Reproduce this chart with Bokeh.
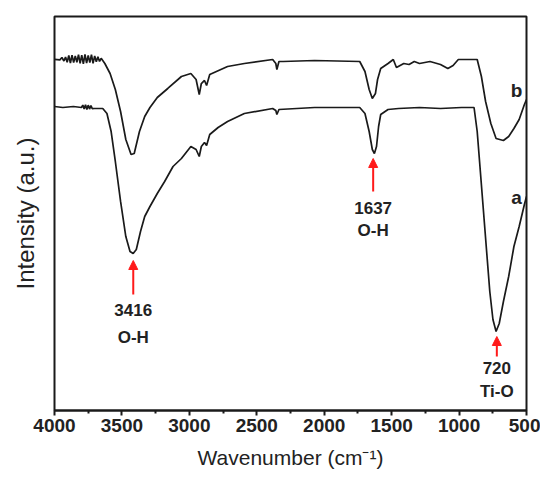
from bokeh.plotting import figure
from bokeh.models import Range1d, FixedTicker, Arrow, NormalHead, ColumnDataSource
from bokeh.core.properties import value
from bokeh.embed import file_html
from bokeh.resources import INLINE

# ---- data ----
wn_b = [4000, 3960, 3945, 3930, 3918, 3906, 3894, 3882, 3870, 3858, 3846, 3834, 3822, 3810,
        3798, 3786, 3774, 3762, 3750, 3738, 3726, 3714, 3702, 3690, 3678, 3666, 3654,
        3626.7, 3587.8, 3548.9, 3510.0, 3471.1, 3432.2,
        3408.9, 3370.0, 3331.1, 3292.2, 3237.8, 3160.0, 3058.9, 2988.9, 2950.0, 2926.7,
        2911.1, 2887.8, 2872.2, 2848.9, 2716.7, 2592.2, 2382.2, 2358.9, 2351.1, 2335.6,
        2304.4, 2071.1, 1736.7, 1697.8, 1666.7, 1643.3, 1620.0, 1604.4, 1581.1, 1526.7,
        1487.8, 1464.4, 1410.0, 1371.1, 1332.2, 1293.3, 1215.6, 1137.8, 1083.3, 1044.4,
        1005.6, 865.6, 834.4, 803.3, 764.4, 725.6, 671.1, 632.2, 593.3, 554.4, 515.6, 500.0]
int_b = [89.1, 89.0, 89.6, 88.7, 89.7, 88.4, 90.1, 88.2, 90.2, 88.3, 90.0, 88.4, 90.3, 88.1,
         90.2, 88.0, 90.4, 88.2, 90.1, 88.3, 90.3, 88.1, 90.0, 88.5, 89.8, 88.6, 89.4,
         88.07, 85.53, 81.47, 75.89, 68.78, 64.97,
         65.23, 70.81, 74.62, 76.90, 79.44, 81.73, 84.77, 85.53, 84.01, 80.20,
         82.99, 83.76, 82.49, 85.28, 87.31, 88.07, 89.09, 88.07, 86.55, 88.58,
         88.58, 88.83, 88.58, 86.04, 81.47, 79.19, 80.46, 84.01, 86.80, 88.07,
         89.09, 87.06, 88.07, 87.82, 88.58, 88.07, 88.58, 87.82, 86.80, 87.56,
         89.09, 89.09, 84.77, 78.43, 72.84, 69.04, 68.53, 69.54, 71.57, 73.86, 77.66, 78.93]

wn_a = [4000, 3937.8, 3860.0, 3800, 3790, 3780, 3770, 3760, 3750, 3740, 3730, 3720, 3704.4,
        3642.2, 3611.1, 3580.0, 3548.9, 3510.0,
        3471.1, 3440.0, 3416.7, 3393.3, 3362.2, 3331.1, 3292.2, 3237.8, 3183.3, 3121.1,
        3058.9, 2988.9, 2950.0, 2926.7, 2911.1, 2887.8, 2872.2, 2848.9, 2786.7, 2716.7,
        2592.2, 2382.2, 2358.9, 2351.1, 2335.6, 2071.1, 1736.7, 1697.8, 1666.7, 1643.3,
        1627.8, 1612.2, 1596.7, 1581.1, 1526.7, 1448.9, 1293.3, 1137.8, 982.2, 888.9,
        865.6, 842.2, 818.9, 795.6, 772.2, 748.9, 725.6, 702.2, 671.1, 632.2,
        593.3, 554.4, 515.6, 500.0]
int_a = [77.16, 76.90, 77.16, 76.9, 77.5, 76.5, 77.6, 76.4, 77.5, 76.5, 77.4, 76.6, 76.65,
         76.65, 75.38, 70.81, 63.20, 53.05,
         44.16, 40.36, 39.85, 40.86, 45.43, 49.24, 51.78, 55.08, 58.12, 61.93,
         63.96, 67.01, 66.24, 64.47, 67.01, 68.02, 67.26, 70.05, 71.83, 73.35,
         75.38, 76.65, 76.14, 75.13, 76.40, 76.90, 76.90, 75.38, 70.81, 66.24,
         65.23, 67.01, 72.08, 75.13, 76.40, 76.65, 76.90, 76.65, 76.90, 76.90,
         70.81, 60.66, 50.51, 40.36, 30.20, 23.10, 20.05, 22.08, 27.66, 34.01,
         41.62, 46.70, 52.28, 54.31]

x_ticks = [4000, 3500, 3000, 2500, 2000, 1500, 1000, 500]
x_minor = [3750, 3250, 2750, 2250, 1750, 1250, 750]

peak_wn = [3416, 1637, 720]
peak_num = ["3416", "1637", "720"]
peak_bond = ["O-H", "O-H", "Ti-O"]
arrow_tail = [29.44, 55.58, 13.71]
arrow_tip = [38.07, 63.96, 18.78]
num_y = [25.4, 51.5, 10.66]
bond_y = [18.53, 45.7, 4.82]

series_names = ["b", "a"]
series_label_wn = [574, 574]
series_label_y = [81.2, 54.06]

FONT = "Liberation Sans"

p = figure(width=540, height=471, output_backend="svg", toolbar_location=None,
           x_range=Range1d(4000, 500), y_range=Range1d(0, 100),
           min_border_left=54, min_border_right=14, min_border_top=16, min_border_bottom=61)
p.grid.visible = False
p.outline_line_color = "#1a1a1a"
p.outline_line_width = 2
p.background_fill_color = "white"
p.border_fill_color = "white"

ay = p.yaxis[0]
ay.ticker = FixedTicker(ticks=[])
ay.major_tick_out = 0
ay.major_tick_in = 0
ay.minor_tick_out = 0
ay.minor_tick_in = 0
ay.axis_line_color = None
ay.major_label_text_font_size = "0px"
ay.axis_label = "Intensity (a.u.)"
ay.axis_label_text_font = FONT
ay.axis_label_text_font_style = "normal"
ay.axis_label_text_font_size = "24px"
ay.axis_label_text_color = "#222222"
ay.axis_label_standoff = 16

ax = p.xaxis[0]
ax.ticker = FixedTicker(ticks=x_ticks, minor_ticks=x_minor)
ax.axis_line_width = 2
ax.axis_line_color = "#1a1a1a"
ax.major_tick_in = 0
ax.major_tick_out = 5
ax.minor_tick_in = 0
ax.minor_tick_out = 3
ax.major_tick_line_width = 2
ax.minor_tick_line_width = 2
ax.major_tick_line_color = "#1a1a1a"
ax.minor_tick_line_color = "#1a1a1a"
ax.major_label_text_font = FONT
ax.major_label_text_font_style = "bold"
ax.major_label_text_font_size = "19px"
ax.major_label_text_color = "#222222"
ax.major_label_standoff = 3
ax.axis_label = "Wavenumber (cm⁻¹)"
ax.axis_label_text_font = FONT
ax.axis_label_text_font_style = "normal"
ax.axis_label_text_font_size = "21px"
ax.axis_label_text_color = "#222222"
ax.axis_label_standoff = 11

p.line(wn_b, int_b, line_color="#1a1a1a", line_width=1.7)
p.line(wn_a, int_a, line_color="#1a1a1a", line_width=1.7)

for w, t0, t1 in zip(peak_wn, arrow_tail, arrow_tip):
    p.add_layout(Arrow(x_start=w, y_start=t0, x_end=w, y_end=t1,
                       line_color="#ff1a1a", line_width=2,
                       end=NormalHead(size=9, fill_color="#ff1a1a", line_color="#ff1a1a")))

src = ColumnDataSource(dict(x=peak_wn + peak_wn, y=num_y + bond_y, t=peak_num + peak_bond))
p.text(x="x", y="y", text="t", source=src, text_align="center", text_baseline="middle",
       text_font=value(FONT), text_font_style="bold", text_font_size="17px", text_color="#222222")

p.text(x=series_label_wn, y=series_label_y, text=series_names, text_align="center",
       text_baseline="middle", text_font=value(FONT), text_font_style="bold",
       text_font_size="19px", text_color="#222222")

open("out.html", "w").write(file_html(p, INLINE))
